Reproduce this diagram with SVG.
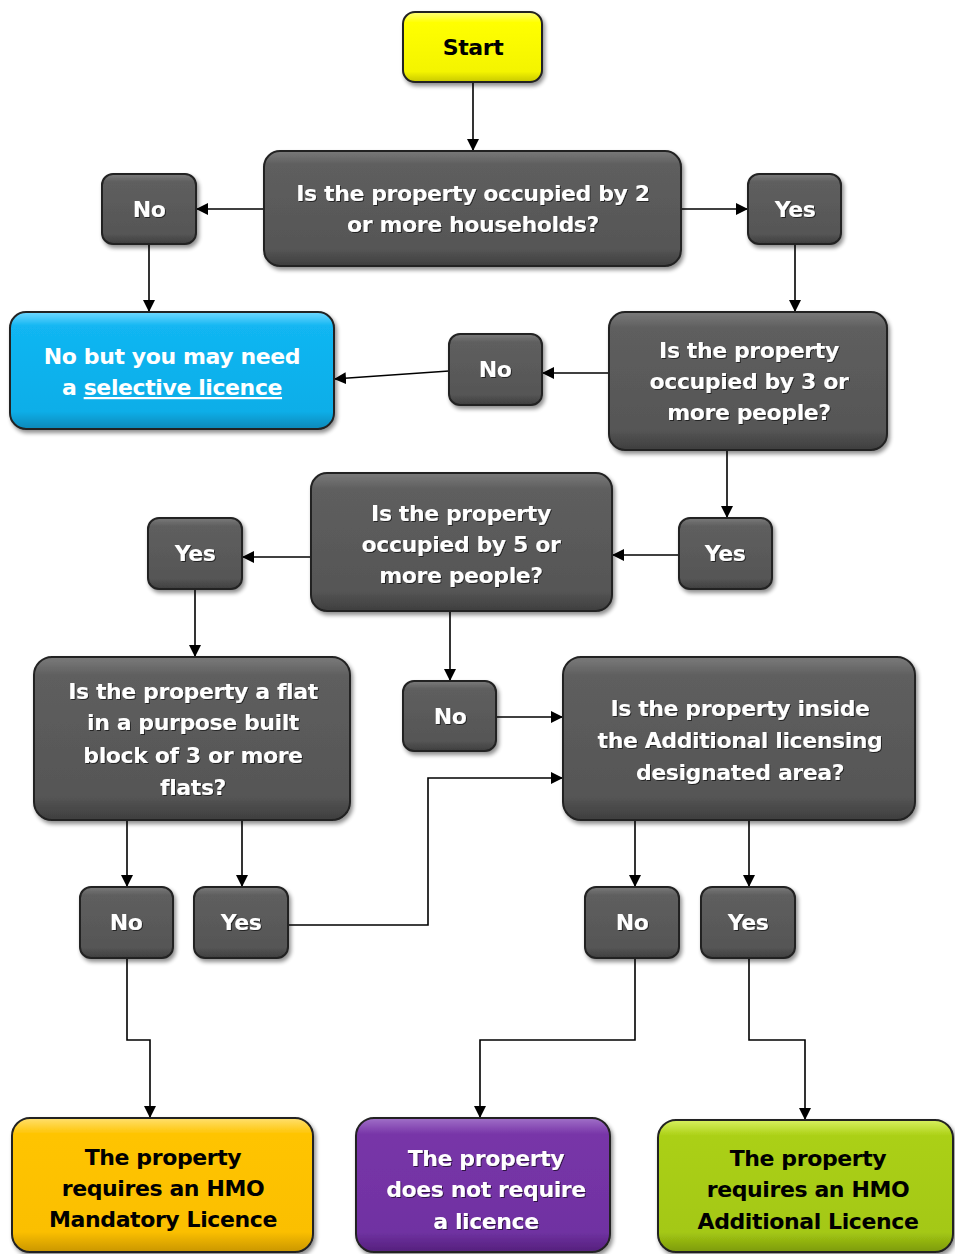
<svg xmlns="http://www.w3.org/2000/svg" width="955" height="1254" viewBox="0 0 955 1254">
<style>
.t{font-family:"DejaVu Sans","Verdana",sans-serif;font-weight:bold;font-size:22px;letter-spacing:-0.4px;text-anchor:middle}
.w{fill:#ffffff}
.k{fill:#000000}
.box{stroke:#222;stroke-width:2}
.c{fill:none;stroke:#000;stroke-width:1.6;marker-end:url(#ah)}
</style>
<defs>
<marker id="ah" markerUnits="userSpaceOnUse" markerWidth="14" markerHeight="14" refX="12" refY="6" orient="auto">
<path d="M0,0 L12,6 L0,12 Z" fill="#000"/>
</marker>
<filter id="sh" x="-10%" y="-10%" width="125%" height="130%">
<feGaussianBlur in="SourceAlpha" stdDeviation="2"/>
<feOffset dx="2" dy="3" result="b"/>
<feComponentTransfer><feFuncA type="linear" slope="0.45"/></feComponentTransfer>
<feMerge><feMergeNode/><feMergeNode in="SourceGraphic"/></feMerge>
</filter>
<filter id="ts" x="-5%" y="-20%" width="110%" height="140%">
<feGaussianBlur in="SourceAlpha" stdDeviation="0.6"/>
<feOffset dx="1" dy="1"/>
<feComponentTransfer><feFuncA type="linear" slope="0.6"/></feComponentTransfer>
<feMerge><feMergeNode/><feMergeNode in="SourceGraphic"/></feMerge>
</filter>
<linearGradient id="gG" x1="0" y1="0" x2="0" y2="1">
<stop offset="0" stop-color="#7a7a7a"/><stop offset="0.12" stop-color="#5e5e5e"/><stop offset="0.85" stop-color="#565656"/><stop offset="1" stop-color="#3e3e3e"/>
</linearGradient>
<linearGradient id="gY" x1="0" y1="0" x2="0" y2="1">
<stop offset="0" stop-color="#ffff80"/><stop offset="0.15" stop-color="#ffff00"/><stop offset="0.85" stop-color="#f4f400"/><stop offset="1" stop-color="#c8c800"/>
</linearGradient>
<linearGradient id="gB" x1="0" y1="0" x2="0" y2="1">
<stop offset="0" stop-color="#70d8ff"/><stop offset="0.12" stop-color="#12b6f2"/><stop offset="0.85" stop-color="#0aaee8"/><stop offset="1" stop-color="#0788b8"/>
</linearGradient>
<linearGradient id="gO" x1="0" y1="0" x2="0" y2="1">
<stop offset="0" stop-color="#ffe070"/><stop offset="0.12" stop-color="#ffc400"/><stop offset="0.85" stop-color="#fbbf00"/><stop offset="1" stop-color="#c99600"/>
</linearGradient>
<linearGradient id="gP" x1="0" y1="0" x2="0" y2="1">
<stop offset="0" stop-color="#a070c8"/><stop offset="0.12" stop-color="#7835a8"/><stop offset="0.85" stop-color="#7032a2"/><stop offset="1" stop-color="#54207c"/>
</linearGradient>
<linearGradient id="gL" x1="0" y1="0" x2="0" y2="1">
<stop offset="0" stop-color="#d8f060"/><stop offset="0.12" stop-color="#abd014"/><stop offset="0.85" stop-color="#a4c814"/><stop offset="1" stop-color="#7c9a0c"/>
</linearGradient>
</defs>

<g id="connectors">
<path class="c" d="M473,82 V151"/>
<path class="c" d="M264,209 H196"/>
<path class="c" d="M681,209 H748"/>
<path class="c" d="M149,244 V312"/>
<path class="c" d="M795,244 V312"/>
<path class="c" d="M609,373 H542"/>
<path class="c" d="M449,371 L334,379"/>
<path class="c" d="M727,450 V518"/>
<path class="c" d="M679,555 H612"/>
<path class="c" d="M311,557 H242"/>
<path class="c" d="M195,589 V657"/>
<path class="c" d="M450,611 V681"/>
<path class="c" d="M496,717 H563"/>
<path class="c" d="M288,925 H428 V778 H563"/>
<path class="c" d="M127,820 V887"/>
<path class="c" d="M242,820 V887"/>
<path class="c" d="M635,820 V887"/>
<path class="c" d="M749,820 V887"/>
<path class="c" d="M127,958 V1040 H150 V1118"/>
<path class="c" d="M635,958 V1040 H480 V1118"/>
<path class="c" d="M749,958 V1040 H805 V1120"/>
</g>

<g id="start">
<rect class="box" x="403" y="12" width="139" height="70" rx="12" fill="url(#gY)" filter="url(#sh)"/>
<text class="t k" x="473" y="55">Start</text>
</g>

<g id="q1">
<rect class="box" x="264" y="151" width="417" height="115" rx="16" fill="url(#gG)" filter="url(#sh)"/>
<g filter="url(#ts)"><text class="t w" x="473" y="201">Is the property occupied by 2</text>
<text class="t w" x="473" y="232">or more households?</text></g>
</g>

<g id="no1">
<rect class="box" x="102" y="174" width="94" height="70" rx="11" fill="url(#gG)" filter="url(#sh)"/>
<text class="t w" x="149" y="217" filter="url(#ts)">No</text>
</g>

<g id="yes1">
<rect class="box" x="748" y="174" width="93" height="70" rx="11" fill="url(#gG)" filter="url(#sh)"/>
<text class="t w" x="795" y="217" filter="url(#ts)">Yes</text>
</g>

<g id="selective">
<rect class="box" x="10" y="312" width="324" height="117" rx="16" fill="url(#gB)" filter="url(#sh)"/>
<text class="t w" x="172" y="364">No but you may need</text>
<text class="t w" x="172" y="395">a <tspan text-decoration="underline">selective licence</tspan></text>
</g>

<g id="q2">
<rect class="box" x="609" y="312" width="278" height="138" rx="16" fill="url(#gG)" filter="url(#sh)"/>
<g filter="url(#ts)"><text class="t w" x="749" y="358">Is the property</text>
<text class="t w" x="749" y="389">occupied by 3 or</text>
<text class="t w" x="749" y="420">more people?</text></g>
</g>

<g id="no2">
<rect class="box" x="449" y="334" width="93" height="71" rx="11" fill="url(#gG)" filter="url(#sh)"/>
<text class="t w" x="495" y="377" filter="url(#ts)">No</text>
</g>

<g id="q3">
<rect class="box" x="311" y="473" width="301" height="138" rx="16" fill="url(#gG)" filter="url(#sh)"/>
<g filter="url(#ts)"><text class="t w" x="461" y="521">Is the property</text>
<text class="t w" x="461" y="552">occupied by 5 or</text>
<text class="t w" x="461" y="583">more people?</text></g>
</g>

<g id="yes3">
<rect class="box" x="679" y="518" width="93" height="71" rx="11" fill="url(#gG)" filter="url(#sh)"/>
<text class="t w" x="725" y="561" filter="url(#ts)">Yes</text>
</g>

<g id="yes4">
<rect class="box" x="148" y="518" width="94" height="71" rx="11" fill="url(#gG)" filter="url(#sh)"/>
<text class="t w" x="195" y="561" filter="url(#ts)">Yes</text>
</g>

<g id="q4">
<rect class="box" x="34" y="657" width="316" height="163" rx="18" fill="url(#gG)" filter="url(#sh)"/>
<g filter="url(#ts)"><text class="t w" x="193" y="699">Is the property a flat</text>
<text class="t w" x="193" y="730">in a purpose built</text>
<text class="t w" x="193" y="763">block of 3 or more</text>
<text class="t w" x="193" y="795">flats?</text></g>
</g>

<g id="no4">
<rect class="box" x="403" y="681" width="93" height="70" rx="11" fill="url(#gG)" filter="url(#sh)"/>
<text class="t w" x="450" y="724" filter="url(#ts)">No</text>
</g>

<g id="q5">
<rect class="box" x="563" y="657" width="352" height="163" rx="18" fill="url(#gG)" filter="url(#sh)"/>
<g filter="url(#ts)"><text class="t w" x="740" y="716">Is the property inside</text>
<text class="t w" x="740" y="748">the Additional licensing</text>
<text class="t w" x="740" y="780">designated area?</text></g>
</g>

<g id="no5">
<rect class="box" x="80" y="887" width="93" height="71" rx="11" fill="url(#gG)" filter="url(#sh)"/>
<text class="t w" x="126" y="930" filter="url(#ts)">No</text>
</g>

<g id="yes5">
<rect class="box" x="194" y="887" width="94" height="71" rx="11" fill="url(#gG)" filter="url(#sh)"/>
<text class="t w" x="241" y="930" filter="url(#ts)">Yes</text>
</g>

<g id="no6">
<rect class="box" x="585" y="887" width="94" height="71" rx="11" fill="url(#gG)" filter="url(#sh)"/>
<text class="t w" x="632" y="930" filter="url(#ts)">No</text>
</g>

<g id="yes6">
<rect class="box" x="701" y="887" width="94" height="71" rx="11" fill="url(#gG)" filter="url(#sh)"/>
<text class="t w" x="748" y="930" filter="url(#ts)">Yes</text>
</g>

<g id="mandatory">
<rect class="box" x="12" y="1118" width="301" height="134" rx="18" fill="url(#gO)" filter="url(#sh)"/>
<text class="t k" x="163" y="1165">The property</text>
<text class="t k" x="163" y="1196">requires an HMO</text>
<text class="t k" x="163" y="1227">Mandatory Licence</text>
</g>

<g id="none">
<rect class="box" x="356" y="1118" width="254" height="134" rx="18" fill="url(#gP)" filter="url(#sh)"/>
<g filter="url(#ts)"><text class="t w" x="486" y="1166">The property</text>
<text class="t w" x="486" y="1197">does not require</text>
<text class="t w" x="486" y="1229">a licence</text></g>
</g>

<g id="additional">
<rect class="box" x="658" y="1120" width="295" height="132" rx="18" fill="url(#gL)" filter="url(#sh)"/>
<text class="t k" x="808" y="1166">The property</text>
<text class="t k" x="808" y="1197">requires an HMO</text>
<text class="t k" x="808" y="1229">Additional Licence</text>
</g>
</svg>
